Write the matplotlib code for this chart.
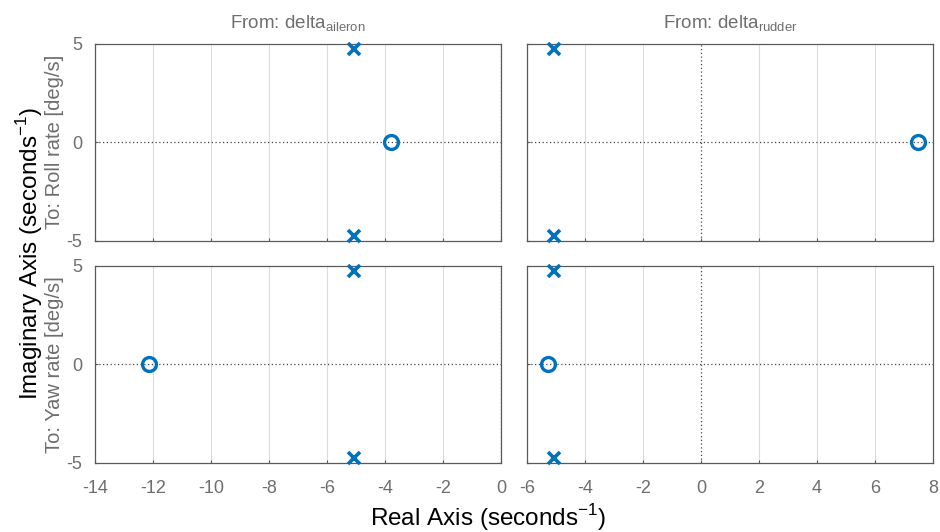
import matplotlib.pyplot as plt
import numpy as np

plt.rcParams["font.family"] = ["Liberation Sans", "DejaVu Sans"]
plt.rcParams["mathtext.fontset"] = "custom"
plt.rcParams["mathtext.rm"] = "Liberation Sans"
plt.rcParams["axes.unicode_minus"] = False

# Open-loop poles (shared by every channel) and the zero of each channel
pole_real = [-5.08, -5.08]
pole_imag = [4.75, -4.75]

inputs = ["aileron", "rudder"]
outputs = ["Roll rate [deg/s]", "Yaw rate [deg/s]"]

# zeros[row][col] -> real parts (all on the real axis)
zeros = [
    [[-3.78], [7.48]],
    [[-12.14], [-5.28]],
]

x_limits = [(-14, 0), (-6, 8)]
y_limits = (-5, 5)

BLUE = "#0072BD"
GRAY_TXT = "#6e6e6e"

fig = plt.figure(figsize=(9.4, 5.32), dpi=100)

lefts = [0.1011, 0.5606]
bottoms = [0.547, 0.1297]
width = 0.432
height = 0.371

for r in range(2):
    for c in range(2):
        ax = fig.add_axes([lefts[c], bottoms[r], width, height])
        xmin, xmax = x_limits[c]
        ax.set_xlim(xmin, xmax)
        ax.set_ylim(*y_limits)
        ax.set_xticks(np.arange(xmin, xmax + 1, 2))
        ax.set_yticks([-5, 0, 5])

        # vertical grid only, dotted axes through the origin
        for xv in np.arange(xmin + 2, xmax, 2):
            if xv != 0:
                ax.axvline(xv, color="#dcdcdc", lw=0.8, zorder=0)
        ax.axhline(0, color="#444444", lw=0.9, ls=(0, (1, 2)), zorder=1)
        if xmin < 0 <= xmax:
            ax.axvline(0, color="#444444", lw=0.9, ls=(0, (1, 2)), zorder=1)

        ax.plot(pole_real, pole_imag, "x", color=BLUE, ms=8, mew=2.6,
                clip_on=False, zorder=3)
        zr = zeros[r][c]
        ax.plot(zr, np.zeros(len(zr)), "o", color=BLUE, ms=10, mew=2.4,
                mfc="none", clip_on=False, zorder=3)

        for s in ax.spines.values():
            s.set_color("#5a5a5a")
            s.set_linewidth(0.9)
        ax.tick_params(direction="in", length=2, color="#5a5a5a",
                       labelcolor=GRAY_TXT, labelsize=13)
        ax.tick_params(axis="x", pad=12)
        ax.tick_params(axis="y", pad=9)
        if r == 0:
            ax.tick_params(labelbottom=False)
            ax.set_title(r"From: delta$_{\mathregular{%s}}$" % inputs[c],
                         color=GRAY_TXT, fontsize=13.5, pad=11)
        if c == 1:
            ax.tick_params(labelleft=False)
        else:
            fig.text(0.0585, bottoms[r] + height / 2, "To: " + outputs[r],
                     rotation=90, ha="center", va="center",
                     color=GRAY_TXT, fontsize=14.5)

fig.text(0.031, 0.524, r"Imaginary Axis (seconds$^{\mathregular{-1}}$)",
         rotation=90, ha="center", va="center", fontsize=17.5)
fig.text(0.519, 0.028, r"Real Axis (seconds$^{\mathregular{-1}}$)",
         ha="center", va="center", fontsize=17.5)

fig.savefig("out.png", dpi=100)
